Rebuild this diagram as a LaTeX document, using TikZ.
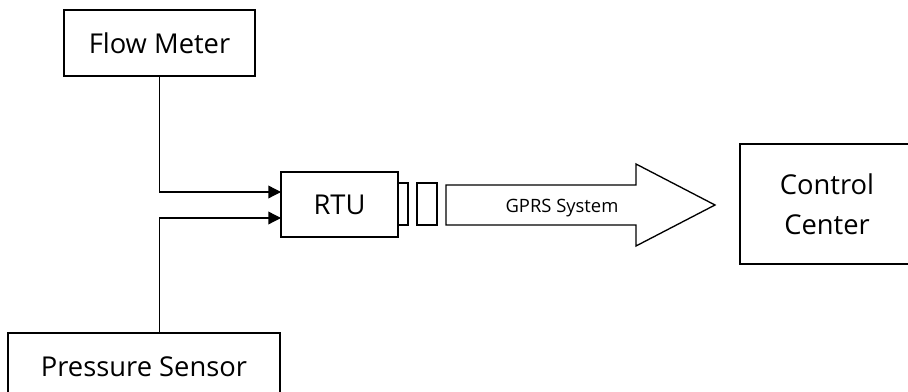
\documentclass[tikz,border=0pt]{standalone}
\usepackage{fontspec}
\setmainfont{Open Sans}
\usetikzlibrary{arrows.meta}
\tikzset{
  unit/.style={draw, line width=1pt, inner sep=0pt, font=\fontsize{20.5}{30}\selectfont, align=center},
  feed/.style={line width=1pt, -{Triangle[length=9.5pt,width=9.5pt]}}
}
\begin{document}
\begin{tikzpicture}[x=0.75pt,y=-0.75pt]
\useasboundingbox (0,0) rectangle (908,392);
\node[unit, minimum width=143.25pt, minimum height=49.5pt] (flow) at (159.5,43){Flow Meter};
\node[unit, minimum width=204pt, minimum height=51pt] (pres) at (144,367){Pressure Sensor};
\node[unit, minimum width=87.75pt, minimum height=48.75pt] (rtu) at (339.5,204.5){RTU};
\node[unit, minimum width=7.5pt, minimum height=31.5pt] (ant1) at (403,204){};
\node[unit, minimum width=15pt, minimum height=31.5pt] (ant2) at (427,204){};
\node[unit, minimum width=130.5pt, minimum height=90pt] (ctrl) at (827,204){Control\\Center};
\coordinate (in1) at (281,192);
\coordinate (in2) at (281,218);
\draw[feed] (flow.south) |- (in1);
\draw[feed] (pres.north -| flow.south) |- (in2);
% GPRS link
\draw[line width=1pt, line join=miter] (446,185) -- (636,185) -- (636,164) -- (715,205) -- (636,246) -- (636,225) -- (446,225) -- cycle;
\node[font=\fontsize{13.8}{16}\selectfont] (gprs) at (562,208){GPRS System};
\end{tikzpicture}
\end{document}
